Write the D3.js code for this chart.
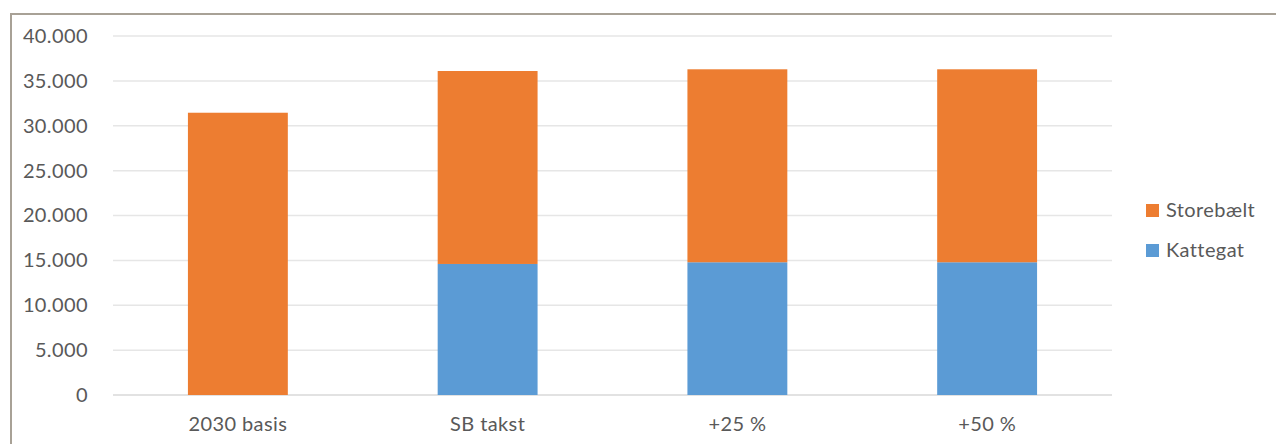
<!DOCTYPE html>
<html lang="da">
<head>
<meta charset="UTF-8">
<title>Storebælt / Kattegat</title>
<style>
    body, html {
        margin: 0;
        padding: 0;
        background: #fff;
        font-family: Lato, "Open Sans", sans-serif;
    }
    svg { display: block; }
    svg text { letter-spacing: 0.4px; }
</style>
<script src="https://d3js.org/d3.v7.min.js"></script>
</head>
<body>
<div id="chart"></div>
<script>
    const categories = ["2030 basis", "SB takst", "+25 %", "+50 %"];
    const kattegat = [0, 14600, 14790, 14790];
    const storebaelt = [31450, 21500, 21500, 21500];
    const yTicks = [0, 5000, 10000, 15000, 20000, 25000, 30000, 35000, 40000];
    const seriesNames = ["Kattegat", "Storebælt"];
    const colors = { "Kattegat": "#5b9bd5", "Storebælt": "#ed7d31" };

    const W = 1276, H = 444;
    const margin = { top: 36, right: 164, bottom: 49, left: 113 };
    const width = W - margin.left - margin.right,
          height = H - margin.top - margin.bottom;

    const svg = d3.select("#chart").append("svg")
        .attr("width", W)
        .attr("height", H);

    // outer frame (only top and left visible)
    svg.append("path")
        .attr("d", `M11,${H} L11,14 L${W},14`)
        .attr("fill", "none")
        .attr("stroke", "#a8a196")
        .attr("stroke-width", 2);

    const g = svg.append("g")
        .attr("transform", `translate(${margin.left},${margin.top})`);

    const rows = categories.map((c, i) => ({ cat: c, "Kattegat": kattegat[i], "Storebælt": storebaelt[i] }));
    const stacked = d3.stack().keys(seriesNames)(rows);

    const x = d3.scaleBand()
        .domain(categories)
        .range([0, width])
        .paddingInner(0.6)
        .paddingOuter(0.3);

    const y = d3.scaleLinear()
        .domain([0, 40000])
        .range([height, 0]);

    const fmt = d => d3.format(",")(d).replace(/,/g, ".");

    // gridlines
    g.append("g")
        .selectAll("line")
        .data(yTicks)
        .join("line")
        .attr("x1", 0)
        .attr("x2", width)
        .attr("y1", d => y(d))
        .attr("y2", d => y(d))
        .attr("stroke", d => d === 0 ? "#d9d9d9" : "#e6e6e6")
        .attr("stroke-width", 1.5);

    // y axis labels
    const yAxis = g.append("g")
        .call(d3.axisLeft(y).tickValues(yTicks).tickFormat(fmt).tickSize(0).tickPadding(25));
    yAxis.select(".domain").remove();
    yAxis.selectAll("text")
        .attr("fill", "#595959")
        .style("font-family", "Lato, 'Open Sans', sans-serif")
        .style("font-size", "20px");

    // bars
    g.append("g")
        .selectAll("g")
        .data(stacked)
        .join("g")
        .attr("fill", d => colors[d.key])
        .selectAll("rect")
        .data(d => d)
        .join("rect")
        .attr("x", d => x(d.data.cat))
        .attr("y", d => y(d[1]))
        .attr("width", x.bandwidth())
        .attr("height", d => y(d[0]) - y(d[1]));

    // x axis labels
    const xAxis = g.append("g")
        .attr("transform", `translate(0,${height})`)
        .call(d3.axisBottom(x).tickSize(0).tickPadding(22));
    xAxis.select(".domain").remove();
    xAxis.selectAll("text")
        .attr("fill", "#595959")
        .style("font-family", "Lato, 'Open Sans', sans-serif")
        .style("font-size", "20px");

    // legend (Storebælt on top)
    const legend = svg.append("g")
        .attr("transform", "translate(1146,204)");
    const legendItems = legend.selectAll("g")
        .data(seriesNames.slice().reverse())
        .join("g")
        .attr("transform", (d, i) => `translate(0,${i * 40})`);
    legendItems.append("rect")
        .attr("width", 13)
        .attr("height", 13)
        .attr("fill", d => colors[d]);
    legendItems.append("text")
        .attr("x", 20)
        .attr("y", 13)
        .attr("fill", "#595959")
        .style("font-size", "20px")
        .text(d => d);
</script>
</body>
</html>
